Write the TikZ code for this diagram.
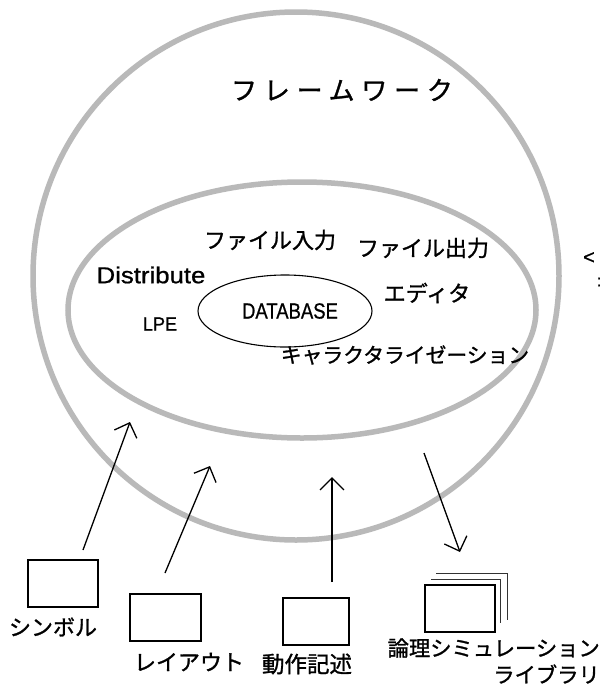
\documentclass[tikz,border=0pt]{standalone}
\usepackage{fontspec}
\newfontfamily\jp[FakeBold=1.2]{Noto Sans CJK JP}
\newfontfamily\jptitle[LetterSpace=26,FakeBold=1.2]{Noto Sans CJK JP}
\newfontfamily\lat[FakeBold=0.8]{Liberation Sans}
\usetikzlibrary{arrows.meta,shapes.geometric}
\begin{document}
\begin{tikzpicture}[x=1pt,y=-1pt,
  ring/.style={draw=gray!55,line width=5.5pt},
  jlab/.style={font=\jp\fontsize{22}{24}\selectfont,inner sep=0pt},
  llab/.style={font=\lat\fontsize{19}{21}\selectfont,inner sep=0pt},
  box/.style={draw,line width=1.3pt,minimum width=70pt,minimum height=47pt,inner sep=0pt},
  layer/.style={line width=1pt,draw=black!80},
  arr/.style={line width=1.3pt,-{Straight Barb[length=12pt,width=24pt,line width=1.3pt]}},
]
\useasboundingbox[fill=white] (0,0) rectangle (603,691);
% rings
\draw[ring] (296,276) ellipse [x radius=263, y radius=264];
\draw[ring] (302,310) ellipse [x radius=234, y radius=128];
% title
\node[inner sep=0pt,font=\jptitle\fontsize{26}{28}\selectfont] (title) at (342,90) {フレームワーク};
% database
\node[ellipse,draw,line width=1.1pt,minimum width=174pt,minimum height=72pt,inner sep=0pt] (db) at (285,311) {};
\node[llab,font=\lat\fontsize{22}{24}\selectfont,xscale=0.84] (dbt) at (290,311) {DATABASE};
% inner labels
\node[jlab] (fin) at (270,240) {ファイル入力};
\node[jlab] (fout) at (423,248) {ファイル出力};
\node[llab,font=\lat\fontsize{23}{26}\selectfont,xscale=1.12] (dist) at (151,275) {Distribute};
\node[jlab] (edit) at (427,293) {エディタ};
\node[llab,xscale=0.95] (lpe) at (160,324) {LPE};
\node[jlab,font=\jp\fontsize{20.8}{24}\selectfont] (char) at (405,355) {キャラクタライゼーション};
% stray edge marks
\node[llab,font=\lat\fontsize{20}{22}\selectfont] (m1) at (589,258) {<};
\node[llab,font=\lat\fontsize{16}{18}\selectfont] (m2) at (599,282) {:};
% boxes
\node[box] (sym) at (63,583.5) {};
\node[box,minimum width=71pt] (lay) at (165.5,617.5) {};
\node[box,minimum width=66pt] (act) at (316,621.5) {};
\node[box] (lib) at (460,608.5) {};
\draw[layer] (431,579) -- (500,579) -- (500,623);
\draw[layer] (436,573) -- (507,573) -- (507,620);
% box labels
\node[jlab] (symt) at (53,627) {シンボル};
\node[jlab,font=\jp\fontsize{22}{24}\selectfont] (layt) at (189,662) {レイアウト};
\node[jlab,font=\jp\fontsize{22.5}{24}\selectfont] (actt) at (307,664) {動作記述};
\node[jlab,font=\jp\fontsize{21.3}{24}\selectfont,anchor=east] (libt1) at (600,648) {論理シミュレーション};
\node[jlab,font=\jp\fontsize{21.3}{24}\selectfont,anchor=east] (libt2) at (600,674) {ライブラリ};
% arrow ends
\coordinate (s1) at (83,550);   \coordinate (e1) at (130,422);
\coordinate (s2) at (165,573);  \coordinate (e2) at (210,466);
\coordinate (s3) at (332,582);  \coordinate (e3) at (332,477);
\coordinate (s4) at (424,453);  \coordinate (e4) at (460,552);
\draw[arr] (s1) -- (e1);
\draw[arr] (s2) -- (e2);
\draw[arr] (s3) -- (e3);
\draw[arr] (s4) -- (e4);
\end{tikzpicture}
\end{document}
